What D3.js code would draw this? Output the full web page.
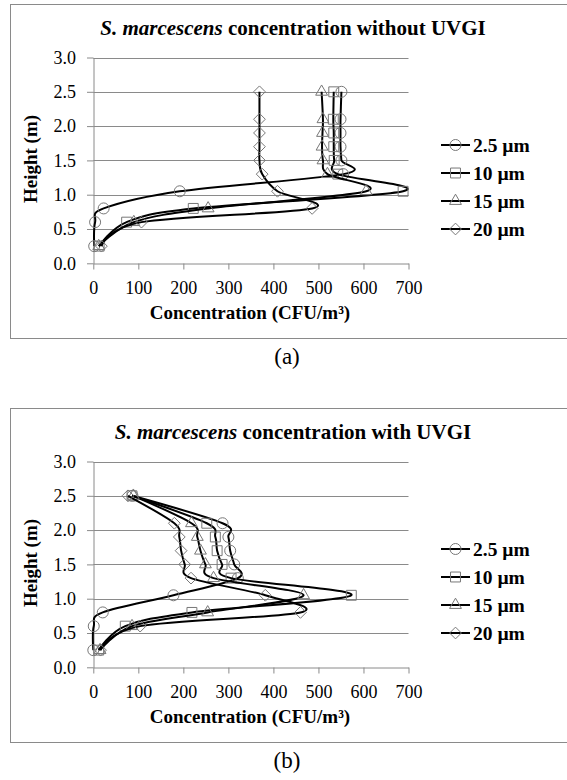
<!DOCTYPE html>
<html>
<head>
<meta charset="utf-8">
<script src="https://cdn.jsdelivr.net/npm/d3@7"></script>
<style>
  body { margin: 0; background: #fff; }
  text { font-family: "Liberation Serif", "Times New Roman", serif; fill: #000; }
</style>
</head>
<body>
<div id="chart"></div>
<script>
const width = 567,
    height = 780;

// sampling heights (m)
const heights = [0.25, 0.6, 0.8, 1.05, 1.3, 1.5, 1.7, 1.9, 2.1, 2.5];
const sizeLabels = ["2.5 µm", "10 µm", "15 µm", "20 µm"];
const xTicks = [0, 100, 200, 300, 400, 500, 600, 700];
const yTicks = [0, 0.5, 1.0, 1.5, 2.0, 2.5, 3.0];

// (a) without UVGI, CFU/m3
const noUv25 = [2, 4, 23, 192, 555, 551, 549, 549, 549, 551];
const noUv10 = [13, 74, 222, 688, 543, 535, 534, 534, 533, 534];
const noUv15 = [12, 90, 255, 606, 520, 510, 508, 509, 510, 507];
const noUv20 = [18, 107, 486, 409, 375, 369, 369, 369, 369, 369];

// (b) with UVGI, CFU/m3
const uv25 = [0, 1, 21, 178, 321, 313, 304, 300, 287, 87];
const uv10 = [12, 71, 219, 573, 306, 286, 275, 271, 252, 86];
const uv15 = [15, 86, 254, 467, 267, 249, 238, 231, 218, 89];
const uv20 = [16, 104, 460, 382, 217, 203, 195, 191, 180, 77];

const symbols = [
    d3.symbol().type(d3.symbolCircle).size(95),
    d3.symbol().type(d3.symbolSquare2).size(125),
    d3.symbol().type(d3.symbolTriangle2).size(100),
    d3.symbol().type(d3.symbolDiamond2).size(88)
];

const gridColor = "#8a8a8a";
const markerColor = "#777";

const svg = d3.select("#chart")
    .append("svg")
    .attr("width", width)
    .attr("height", height);

svg.append("rect").attr("width", width).attr("height", height).attr("fill", "#fff");

function drawPanel(top, titleRest, series, caption) {
    // frame
    svg.append("rect")
        .attr("x", 10.5).attr("y", top + 0.5)
        .attr("width", 570).attr("height", 334)
        .attr("fill", "none")
        .attr("stroke", gridColor);

    const x = d3.scaleLinear().domain([0, 700]).range([93.3, 408.5]);
    const y = d3.scaleLinear().domain([0, 3]).range([top + 259.3, top + 53.5]);

    // title
    const title = svg.append("text")
        .attr("x", 293).attr("y", top + 30.5)
        .attr("text-anchor", "middle")
        .style("font-size", "21px")
        .style("font-weight", "bold");
    title.append("tspan").style("font-style", "italic").text("S. marcescens");
    title.append("tspan").text(" " + titleRest);

    // gridlines
    svg.append("g")
        .selectAll("line")
        .data(yTicks.filter(d => d > 0))
        .enter().append("line")
        .attr("x1", x(0)).attr("x2", x(700))
        .attr("y1", d => Math.round(y(d)) + 0.5)
        .attr("y2", d => Math.round(y(d)) + 0.5)
        .attr("stroke", gridColor);

    const yAxis = svg.append("g")
        .attr("transform", `translate(${Math.round(x(0)) + 0.5},0)`)
        .call(d3.axisLeft(y).tickValues(yTicks).tickFormat(d3.format(".1f"))
            .tickSize(6.5).tickPadding(11).tickSizeOuter(0));
    const xAxis = svg.append("g")
        .attr("transform", `translate(0,${Math.round(y(0)) + 0.5})`)
        .call(d3.axisBottom(x).tickValues(xTicks).tickFormat(d3.format("d"))
            .tickSize(6).tickPadding(11.5).tickSizeOuter(0));

    [xAxis, yAxis].forEach(a => {
        a.select(".domain").attr("stroke", gridColor);
        a.selectAll(".tick line").attr("stroke", gridColor);
        a.selectAll(".tick text")
            .attr("fill", "#000")
            .style("font-family", "'Liberation Serif', serif")
            .style("font-size", "18px");
    });

    // axis titles
    svg.append("text")
        .attr("x", 250).attr("y", top + 315)
        .attr("text-anchor", "middle")
        .style("font-size", "19px")
        .style("font-weight", "bold")
        .text("Concentration  (CFU/m³)");

    svg.append("text")
        .attr("transform", `translate(30,${top + 155}) rotate(-90)`)
        .attr("text-anchor", "middle")
        .attr("dominant-baseline", "central")
        .style("font-size", "19px")
        .style("font-weight", "bold")
        .text("Height (m)");

    // smoothed lines like the spreadsheet
    const line = d3.line()
        .x(d => x(d[0]))
        .y(d => y(d[1]))
        .curve(d3.curveCardinal.tension(0));

    series.forEach((vals, i) => {
        const pts = vals.map((v, j) => [v, heights[j]]);
        svg.append("path")
            .datum(pts)
            .attr("d", line)
            .attr("fill", "none")
            .attr("stroke", "#000")
            .attr("stroke-width", 2);
        svg.append("g")
            .selectAll("path")
            .data(pts)
            .enter().append("path")
            .attr("d", symbols[i])
            .attr("transform", d => `translate(${x(d[0])},${y(d[1])})`)
            .attr("fill", "none")
            .attr("stroke", markerColor)
            .attr("stroke-width", 1);
    });

    // legend
    const legend = svg.append("g").attr("transform", `translate(441,${top + 141})`);
    sizeLabels.forEach((lab, i) => {
        const row = legend.append("g").attr("transform", `translate(0,${i * 28})`);
        row.append("line")
            .attr("x1", 0).attr("x2", 29)
            .attr("stroke", "#000").attr("stroke-width", 2);
        row.append("path")
            .attr("d", symbols[i])
            .attr("transform", "translate(14.5,0)")
            .attr("fill", "none")
            .attr("stroke", markerColor);
        row.append("text")
            .attr("x", 32)
            .attr("dominant-baseline", "central")
            .style("font-size", "19.5px")
            .style("font-weight", "bold")
            .text(lab);
    });

    svg.append("text")
        .attr("x", 287).attr("y", top + 360)
        .attr("text-anchor", "middle")
        .style("font-size", "23px")
        .text(caption);
}

drawPanel(4, "concentration without UVGI", [noUv25, noUv10, noUv15, noUv20], "(a)");
drawPanel(408, "concentration with UVGI", [uv25, uv10, uv15, uv20], "(b)");
</script>
</body>
</html>
